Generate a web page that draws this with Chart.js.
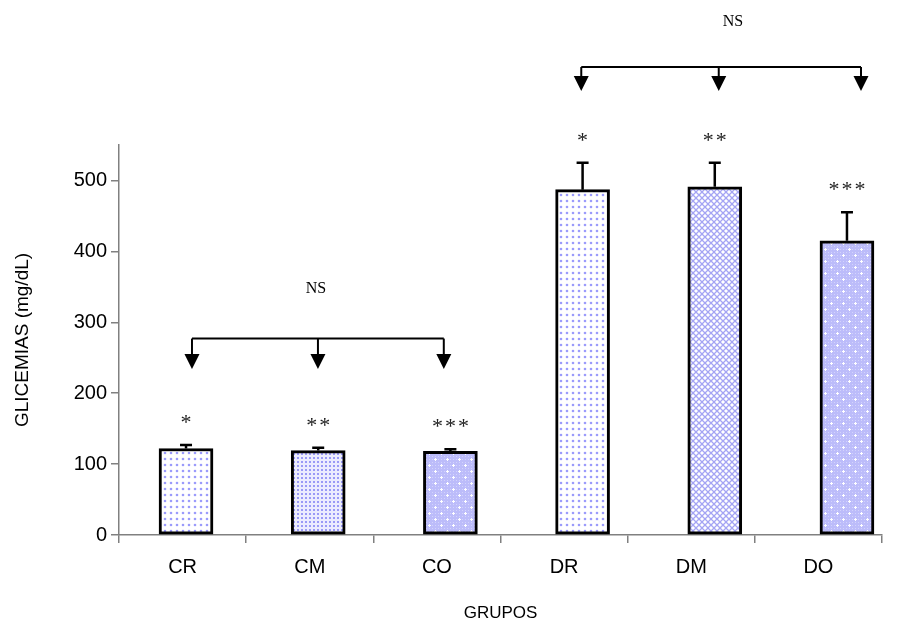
<!DOCTYPE html>
<html>
<head>
<meta charset="utf-8">
<script src="https://cdn.jsdelivr.net/npm/chart.js@4/dist/chart.umd.min.js"></script>
<style>
  html, body { margin: 0; padding: 0; background: #fff; }
  #wrap { width: 903px; height: 624px; }
</style>
</head>
<body>
<div id="wrap"><canvas id="grafica"></canvas></div>
<script>
// grupos y glicemias medias (mg/dL) con su error
const grupos = ['CR', 'CM', 'CO', 'DR', 'DM', 'DO'];
const glicemias = [122, 119, 118, 487, 491, 415];
const errores = [5, 4, 3, 38, 34, 40];
const marcas = ['*', '**', '***', '*', '**', '***'];
const yTicks = [0, 100, 200, 300, 400, 500];

// tramas de relleno de las barras
function trama(w, h, dibujar) {
    const c = document.createElement('canvas');
    c.width = w;
    c.height = h;
    const g = c.getContext('2d');
    dibujar(g);
    return g.createPattern(c, 'repeat');
}

const ctx = document.getElementById('grafica').getContext('2d');

const puntosClaros = trama(6, 6, g => {
    g.fillStyle = '#ffffff';
    g.fillRect(0, 0, 6, 6);
    g.fillStyle = 'rgba(130,130,250,0.8)';
    g.beginPath();
    g.arc(3, 3, 1.3, 0, Math.PI * 2);
    g.fill();
});

const puntosDensos = trama(4, 4, g => {
    g.fillStyle = '#ececff';
    g.fillRect(0, 0, 4, 4);
    g.fillStyle = 'rgba(140,140,245,0.85)';
    g.fillRect(1, 1, 2, 2);
});

const estrellas = trama(12, 12, g => {
    g.fillStyle = '#bcbcfa';
    g.fillRect(0, 0, 12, 12);
    g.fillStyle = 'rgba(255,255,255,0.35)';
    for (let i = 0; i < 12; i += 3) {
        for (let j = 0; j < 12; j += 3) g.fillRect(i, j, 1, 1);
    }
    g.fillStyle = '#ffffff';
    g.fillRect(2, 3, 3, 1);
    g.fillRect(3, 2, 1, 3);
    g.fillRect(8, 9, 3, 1);
    g.fillRect(9, 8, 1, 3);
});

const rombos = trama(6, 6, g => {
    g.fillStyle = '#ffffff';
    g.fillRect(0, 0, 6, 6);
    g.strokeStyle = '#a4a4f4';
    g.lineWidth = 1.3;
    g.beginPath();
    g.moveTo(0, 0); g.lineTo(6, 6);
    g.moveTo(6, 0); g.lineTo(0, 6);
    g.stroke();
});

const rellenos = [puntosClaros, puntosDensos, estrellas, puntosClaros, rombos, estrellas];

// llaves de comparacion con flechas (posiciones en unidades de los ejes)
const llaves = [
    { xs: [0.045, 0.998, 1.95], y: 277, punta: 234, texto: 'NS', tx: 0.983, ty: 347 },
    { xs: [2.99, 4.03, 5.106], y: 660, punta: 626, texto: 'NS', tx: 4.138, ty: 724 }
];

const extras = {
    id: 'extras',
    afterDatasetsDraw(chart) {
        const c = chart.ctx;
        const xb = chart.scales.xb;
        const y = chart.scales.y;
        const meta = chart.getDatasetMeta(0);

        c.save();
        // barras de error (solo hacia arriba)
        c.strokeStyle = '#000';
        c.lineWidth = 2.5;
        meta.data.forEach((bar, i) => {
            const yTop = y.getPixelForValue(glicemias[i] + errores[i]);
            c.beginPath();
            c.moveTo(bar.x, bar.y);
            c.lineTo(bar.x, yTop);
            c.moveTo(bar.x - 6, yTop);
            c.lineTo(bar.x + 6, yTop);
            c.stroke();

            // asteriscos
            c.fillStyle = '#222';
            c.font = '22px "Liberation Serif", "Times New Roman", serif';
            c.textAlign = 'center';
            c.textBaseline = 'alphabetic';
            const n = marcas[i].length;
            for (let k = 0; k < n; k++) {
                const sx = bar.x + (k - (n - 1) / 2) * 13;
                c.fillText('*', sx, yTop - 16);
            }
        });

        // llaves NS
        llaves.forEach(l => {
            const py = y.getPixelForValue(l.y);
            const pp = y.getPixelForValue(l.punta);
            const px = l.xs.map(v => xb.getPixelForValue(v));
            c.strokeStyle = '#000';
            c.lineWidth = 2;
            c.beginPath();
            c.moveTo(px[0], py);
            c.lineTo(px[2], py);
            c.stroke();
            px.forEach(x => {
                c.beginPath();
                c.moveTo(x, py);
                c.lineTo(x, pp - 14);
                c.stroke();
                c.fillStyle = '#000';
                c.beginPath();
                c.moveTo(x - 7.5, pp - 15);
                c.lineTo(x + 7.5, pp - 15);
                c.lineTo(x, pp);
                c.closePath();
                c.fill();
            });
            c.fillStyle = '#000';
            c.font = '16px "Liberation Serif", "Times New Roman", serif';
            c.textAlign = 'center';
            c.textBaseline = 'middle';
            c.fillText(l.texto, xb.getPixelForValue(l.tx), y.getPixelForValue(l.ty));
        });
        c.restore();
    }
};

new Chart(ctx, {
    type: 'bar',
    data: {
        labels: grupos,
        datasets: [{
            label: 'Glicemias',
            data: glicemias.map((v, i) => ({ x: i, y: v })),
            xAxisID: 'xb',
            backgroundColor: rellenos,
            borderColor: '#000',
            borderWidth: 3,
            borderSkipped: false,
            barThickness: 54
        }]
    },
    options: {
        responsive: true,
        maintainAspectRatio: false,
        animation: false,
        layout: { padding: { top: 145, right: 21, left: 0, bottom: 0 } },
        plugins: {
            legend: { display: false },
            tooltip: { enabled: false }
        },
        scales: {
            xb: {
                type: 'linear',
                display: false,
                offset: false,
                min: -0.507,
                max: 5.265
            },
            x: {
                type: 'category',
                labels: grupos,
                offset: true,
                afterFit: s => { s.height = 89; },
                border: { display: true, color: '#808080', width: 1.5 },
                grid: { display: true, offset: true, drawOnChartArea: false, tickLength: 8, color: '#808080', lineWidth: 1.5 },
                ticks: { color: '#000', font: { family: '"Liberation Sans", Arial, sans-serif', size: 20 }, padding: 12 },
                title: {
                    display: true,
                    text: 'GRUPOS',
                    color: '#000',
                    font: { family: '"Liberation Sans", Arial, sans-serif', size: 17 },
                    padding: { top: 0, bottom: 0 }
                }
            },
            y: {
                min: 0,
                max: 550,
                afterFit: s => { s.width = 119; },
                afterBuildTicks: s => { s.ticks = yTicks.map(v => ({ value: v })); },
                border: { display: true, color: '#808080', width: 1.5 },
                grid: { display: true, drawOnChartArea: false, tickLength: 8, color: '#808080', lineWidth: 1.5 },
                ticks: { color: '#000', font: { family: '"Liberation Sans", Arial, sans-serif', size: 20 }, padding: 4 },
                title: {
                    display: true,
                    text: 'GLICEMIAS (mg/dL)',
                    color: '#000',
                    font: { family: '"Liberation Sans", Arial, sans-serif', size: 19 },
                    padding: { top: 11, bottom: 0 }
                }
            }
        }
    },
    plugins: [extras]
});
</script>
</body>
</html>
